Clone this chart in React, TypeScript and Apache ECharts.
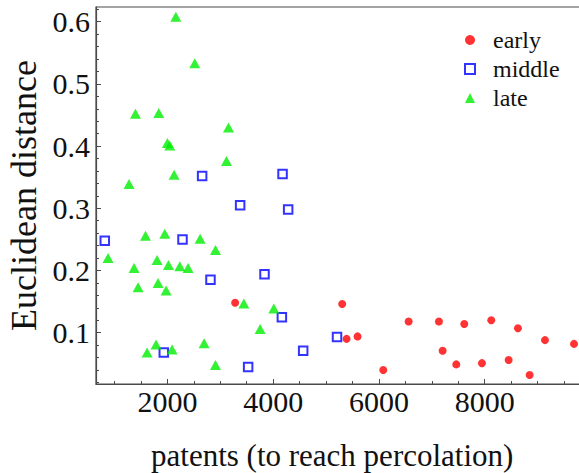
import React, { useEffect, useRef } from "react";
import * as echarts from "echarts";

const seriesNames = ["early", "middle", "late"];

const early: [number, number][] = [
  [3281, 0.148], [5306, 0.146], [5389, 0.09], [5597, 0.094], [6082, 0.04],
  [6562, 0.118], [7135, 0.118], [7205, 0.071], [7614, 0.114], [7463, 0.049],
  [7949, 0.051], [8125, 0.12], [8454, 0.056], [8630, 0.107], [8851, 0.032],
  [9141, 0.088], [9690, 0.082],
];

const middle: [number, number][] = [
  [2657, 0.352], [4178, 0.355], [3376, 0.305], [4284, 0.298], [816, 0.248],
  [2286, 0.25], [2815, 0.185], [3837, 0.194], [4165, 0.125], [5208, 0.093],
  [1932, 0.068], [4568, 0.071], [3527, 0.045],
];

const late: [number, number][] = [
  [2160, 0.608], [2518, 0.533], [1396, 0.452], [1837, 0.453], [3156, 0.43],
  [2000, 0.405], [2045, 0.401], [3118, 0.376], [2127, 0.354], [1275, 0.339],
  [1586, 0.256], [1951, 0.259], [2619, 0.251], [2910, 0.233], [878, 0.22],
  [1370, 0.204], [1805, 0.217], [2021, 0.209], [2235, 0.207], [2392, 0.204],
  [1446, 0.173], [1824, 0.18], [1975, 0.168], [3446, 0.147], [4013, 0.139],
  [3754, 0.106], [1786, 0.081], [1616, 0.068], [2089, 0.073], [2695, 0.083],
  [2910, 0.048],
];

const xMajorTicks = [2000, 4000, 6000, 8000];
const xMinorTicks = [1000, 1500, 2500, 3000, 3500, 4500, 5000, 5500, 6500, 7000, 7500, 8500, 9000, 9500];
const yMajorTicks = [0.1, 0.2, 0.3, 0.4, 0.5, 0.6];
const yMinorTicks = [0.02, 0.04, 0.06, 0.08, 0.12, 0.14, 0.16, 0.18, 0.22, 0.24, 0.26, 0.28,
  0.32, 0.34, 0.36, 0.38, 0.42, 0.44, 0.46, 0.48, 0.52, 0.54, 0.56, 0.58, 0.62];

const X_MIN = 650;
const X_MAX = 10000;
const Y_MIN = 0.0175;
const Y_MAX = 0.6236;

const FONT = "Liberation Serif";
const AXIS_COLOR = "#4a4a4a";

export default function App() {
  const ref = useRef<HTMLDivElement>(null);

  useEffect(() => {
    document.body.style.margin = "0";
    if (!ref.current) return;
    const chart = echarts.init(ref.current, null, { renderer: "svg" });
    const gridPos = { left: 96, top: 7, right: -11.4, bottom: 89, outerBoundsMode: "none", containLabel: false };
    const option: any = {
      animation: false,
      backgroundColor: "#fff",
      textStyle: { fontFamily: FONT },
      grid: [
        { ...gridPos, show: true, borderColor: AXIS_COLOR, borderWidth: 1.2, backgroundColor: "transparent" },
        { ...gridPos, show: false },
      ],
      legend: {
        data: seriesNames,
        orient: "vertical",
        left: 464,
        top: 28,
        padding: 0,
        itemWidth: 10,
        itemHeight: 10,
        itemGap: 5,
        textStyle: { fontFamily: FONT, fontSize: 24, color: "#111", lineHeight: 24, padding: [0, 0, 0, 13] },
      },
      xAxis: [
        {
          type: "value",
          gridIndex: 0,
          min: X_MIN,
          max: X_MAX,
          name: "patents (to reach percolation)",
          nameLocation: "middle",
          nameGap: 56,
          nameTextStyle: { fontFamily: FONT, fontSize: 31, lineHeight: 30, color: "#111", padding: [0, 22, 0, 0] },
          axisLine: { show: true, lineStyle: { color: AXIS_COLOR, width: 1.2 } },
          axisTick: { show: true, inside: true, length: 5, customValues: xMajorTicks, lineStyle: { color: AXIS_COLOR } },
          axisLabel: {
            customValues: xMajorTicks,
            formatter: (v: number) => String(v),
            fontFamily: FONT,
            fontSize: 30,
            color: "#111",
            margin: 2,
          },
          splitLine: { show: false },
        },
        {
          type: "value",
          gridIndex: 1,
          min: X_MIN,
          max: X_MAX,
          axisLine: { show: false },
          axisTick: { show: true, inside: true, length: 3, customValues: xMinorTicks, lineStyle: { color: AXIS_COLOR } },
          axisLabel: { show: false },
          splitLine: { show: false },
        },
      ],
      yAxis: [
        {
          type: "value",
          gridIndex: 0,
          min: Y_MIN,
          max: Y_MAX,
          name: "Euclidean distance",
          nameLocation: "middle",
          nameGap: 54,
          nameTextStyle: { fontFamily: FONT, fontSize: 36, color: "#111" },
          axisLine: { show: true, lineStyle: { color: AXIS_COLOR, width: 1.2 } },
          axisTick: { show: true, inside: true, length: 5, customValues: yMajorTicks, lineStyle: { color: AXIS_COLOR } },
          axisLabel: {
            customValues: yMajorTicks,
            formatter: (v: number) => v.toFixed(1),
            fontFamily: FONT,
            fontSize: 30,
            color: "#111",
            margin: 6,
          },
          splitLine: { show: false },
        },
        {
          type: "value",
          gridIndex: 1,
          min: Y_MIN,
          max: Y_MAX,
          axisLine: { show: false },
          axisTick: { show: true, inside: true, length: 3, customValues: yMinorTicks, lineStyle: { color: AXIS_COLOR } },
          axisLabel: { show: false },
          splitLine: { show: false },
        },
      ],
      series: [
        { name: "early", type: "scatter", data: early, symbol: "circle", symbolSize: 8, itemStyle: { color: "#ff0000" } },
        {
          name: "middle",
          type: "scatter",
          data: middle,
          symbol: "rect",
          symbolSize: 8.5,
          itemStyle: { color: "rgba(255,255,255,0)", borderColor: "#0000ff", borderWidth: 2 },
        },
        { name: "late", type: "scatter", data: late, symbol: "triangle", symbolSize: [11, 10], itemStyle: { color: "#00ee00" } },
      ],
    };
    chart.setOption(option);
    return () => chart.dispose();
  }, []);

  return <div ref={ref} style={{ width: 579, height: 473 }} />;
}
